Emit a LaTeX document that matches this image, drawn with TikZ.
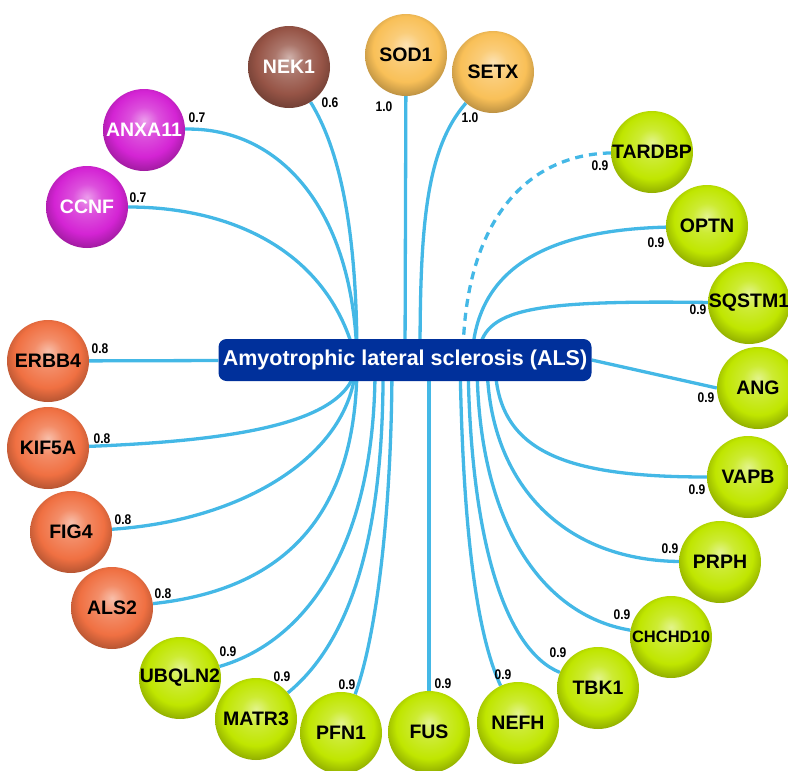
\documentclass[tikz,border=0pt]{standalone}
\usepackage{fontspec}
\setmainfont{Liberation Sans}
\newfontfamily\wtfont[FakeStretch=0.86]{Liberation Sans}
\usetikzlibrary{backgrounds}

\definecolor{limeg}{RGB}{192,230,0}
\definecolor{coral}{RGB}{240,112,66}
\definecolor{magen}{RGB}{212,36,212}
\definecolor{brownk}{RGB}{150,84,70}
\definecolor{sand}{RGB}{249,192,88}
\definecolor{edgeblue}{RGB}{68,184,230}
\definecolor{alsblue}{RGB}{0,48,155}

\colorlet{gball}{limeg}
\pgfdeclareradialshading[gball]{sphere}{\pgfpoint{0bp}{6bp}}{%
  color(0bp)=(gball!45!white);
  color(9bp)=(gball!80!white);
  color(20bp)=(gball);
  color(27bp)=(gball!78!black);
  color(31bp)=(gball!55!black);
  color(50bp)=(gball!55!black)}

\tikzset{
  gcol/.code={\colorlet{gball}{#1}},
  gene/.style={circle, inner sep=0pt, minimum size=82pt, shading=sphere,
    font=\bfseries\fontsize{19.5}{21}\selectfont},
  hubbox/.style={rectangle, rounded corners=8pt, fill=alsblue, text=white,
    minimum width=373pt, minimum height=42pt, inner sep=0pt,
    font=\bfseries\fontsize{21.5}{24}\selectfont},
  lnk/.style={draw=edgeblue, line width=3.3pt},
  wt/.style={inner sep=0pt, font=\wtfont\bfseries\fontsize{14}{15}\selectfont}
}

\begin{document}
\begin{tikzpicture}[x=1pt, y=-1pt]
  \useasboundingbox (0,0) rectangle (788,771);

  % hub
  \node[hubbox] (als) at (405,360) {Amyotrophic lateral sclerosis (ALS)};

  % genes
  \node[gene, gcol=brownk, text=white] (nek1) at (289,67) {NEK1};
  \node[gene, gcol=sand] (sod1) at (406,55) {SOD1};
  \node[gene, gcol=sand] (setx) at (493,72) {SETX};
  \node[gene, gcol=magen, text=white] (anxa11) at (144,130) {ANXA11};
  \node[gene, gcol=magen, text=white] (ccnf) at (87,207) {CCNF};
  \node[gene] (tardbp) at (652,152) {TARDBP};
  \node[gene] (optn) at (707,226) {OPTN};
  \node[gene] (sqstm1) at (749,303) {SQSTM1};
  \node[gene] (ang) at (758,388) {ANG};
  \node[gene] (vapb) at (748,477) {VAPB};
  \node[gene] (prph) at (720,562) {PRPH};
  \node[gene, font=\bfseries\fontsize{16.5}{18}\selectfont] (chchd10) at (671,637) {CHCHD10};
  \node[gene] (tbk1) at (598,688) {TBK1};
  \node[gene] (nefh) at (518,723) {NEFH};
  \node[gene] (fus) at (429,732) {FUS};
  \node[gene] (pfn1) at (341,733) {PFN1};
  \node[gene] (matr3) at (256,719) {MATR3};
  \node[gene] (ubqln2) at (180,678) {UBQLN2};
  \node[gene, gcol=coral] (als2) at (112,608) {ALS2};
  \node[gene, gcol=coral] (fig4) at (71,532) {FIG4};
  \node[gene, gcol=coral] (kif5a) at (48,448) {KIF5A};
  \node[gene, gcol=coral] (erbb4) at (48,361) {ERBB4};

  % scores
  \node[wt] (w-nek1) at (330,103) {0.6};
  \node[wt] (w-sod1) at (384,107) {1.0};
  \node[wt] (w-setx) at (470,118) {1.0};
  \node[wt] (w-anxa11) at (197,118) {0.7};
  \node[wt] (w-ccnf) at (138,198) {0.7};
  \node[wt] (w-tardbp) at (600,166) {0.9};
  \node[wt] (w-optn) at (656,243) {0.9};
  \node[wt] (w-sqstm1) at (698,310) {0.9};
  \node[wt] (w-ang) at (706,398) {0.9};
  \node[wt] (w-vapb) at (697,490) {0.9};
  \node[wt] (w-prph) at (670,549) {0.9};
  \node[wt] (w-chchd10) at (622,615) {0.9};
  \node[wt] (w-tbk1) at (558,653) {0.9};
  \node[wt] (w-nefh) at (503,675) {0.9};
  \node[wt] (w-fus) at (443,684) {0.9};
  \node[wt] (w-pfn1) at (347,685) {0.9};
  \node[wt] (w-matr3) at (282,677) {0.9};
  \node[wt] (w-ubqln2) at (228,652) {0.9};
  \node[wt] (w-als2) at (163,594) {0.8};
  \node[wt] (w-fig4) at (123,520) {0.8};
  \node[wt] (w-kif5a) at (102,439) {0.8};
  \node[wt] (w-erbb4) at (100,349) {0.8};

  % links
  \begin{scope}[on background layer]
    \draw[lnk] (nek1) .. controls +(51,83) and +(0,-130) .. ([xshift=-48pt]als.center);
    \draw[lnk] (anxa11) .. controls +(136,-3) and +(-3,-150) .. ([xshift=-48pt]als.center);
    \draw[lnk] (ccnf) .. controls +(143,0) and +(-26,-110) .. ([xshift=-49pt]als.center);
    \draw[lnk] (sod1) -- (als);
    \draw[lnk] (setx) .. controls +(-68,78) and +(0,-130) .. ([xshift=15pt]als.center);
    \draw[lnk, dash pattern=on 8pt off 6pt] (tardbp) .. controls +(-132,3) and +(0,-130) .. ([xshift=58pt]als.center);
    \draw[lnk] (optn) .. controls +(-147,4) and +(3,-100) .. ([xshift=67pt]als.center);
    \draw[lnk] (sqstm1) .. controls +(-229,-3) and +(2,-50) .. ([xshift=73pt]als.center);
    \draw[lnk] (als.east) -- (ang.west);
    \draw[lnk] (vapb) .. controls +(-188,0) and +(0,90) .. ([xshift=90pt]als.center);
    \draw[lnk] (prph) .. controls +(-160,-2) and +(0,120) .. ([xshift=82pt]als.center);
    \draw[lnk] (chchd10) .. controls +(-131,-22) and +(0,160) .. ([xshift=72pt]als.center);
    \draw[lnk] (tbk1) .. controls +(-93,-38) and +(2,180) .. ([xshift=63pt]als.center);
    \draw[lnk] (nefh) .. controls +(-48,-103) and +(2,120) .. ([xshift=55pt]als.center);
    \draw[lnk] (fus) -- (fus |- als);
    \draw[lnk] (pfn1) .. controls +(34,-93) and +(0,160) .. ([xshift=-13pt]als.center);
    \draw[lnk] (matr3) .. controls +(84,-69) and +(2,200) .. ([xshift=-22pt]als.center);
    \draw[lnk] (ubqln2) .. controls +(130,-38) and +(2,180) .. ([xshift=-30pt]als.center);
    \draw[lnk] (als2) .. controls +(168,-18) and +(1,160) .. ([xshift=-48pt]als.center);
    \draw[lnk] (fig4) .. controls +(179,-12) and +(-1,90) .. ([xshift=-49pt]als.center);
    \draw[lnk] (kif5a) .. controls +(202,-8) and +(-2,60) .. ([xshift=-48pt]als.center);
    \draw[lnk] (erbb4) -- (als);
  \end{scope}
\end{tikzpicture}
\end{document}
